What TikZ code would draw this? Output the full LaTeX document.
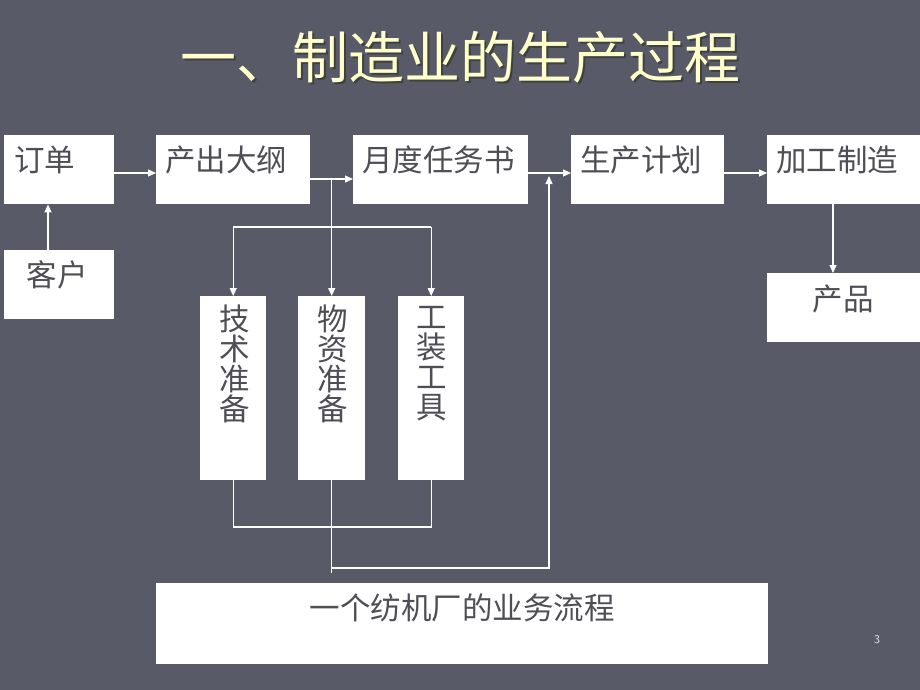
\documentclass[tikz,border=0pt]{standalone}
\usepackage{fontspec}
\newfontfamily\cjk{Noto Sans CJK SC}
\usetikzlibrary{arrows.meta}
\definecolor{bg}{RGB}{89,90,104}
\definecolor{titlec}{RGB}{255,255,204}
\definecolor{txt}{RGB}{78,78,84}
\tikzset{
  box/.style={fill=white, draw=none, anchor=north west, inner sep=0pt},
  lbl/.style={text=txt, inner sep=0pt, font=\cjk\fontsize{30.5}{30}\selectfont},
  vlbl/.style={lbl, align=center},
  conn/.style={draw=white, line width=1.2pt},
  arr/.style={conn, -{Triangle[length=8pt,width=7pt]}},
}
\begin{document}
\begin{tikzpicture}[x=1pt,y=-1pt]
\useasboundingbox (0,0) rectangle (920,690);
\fill[bg] (0,0) rectangle (920,690);
% title
\node[text=black!75, font=\cjk\fontsize{56}{58}\selectfont, inner sep=0pt] (titleshadow) at (462,59) {一、制造业的生产过程};
\node[text=titlec, font=\cjk\fontsize{56}{58}\selectfont, inner sep=0pt] (title) at (460,57) {一、制造业的生产过程};
% boxes
\node[box, minimum width=110pt, minimum height=69pt] (dingdan) at (4,135) {};
\node[box, minimum width=154pt, minimum height=69pt] (chuchu) at (156,135) {};
\node[box, minimum width=175pt, minimum height=69pt] (yuedu) at (353,135) {};
\node[box, minimum width=153pt, minimum height=69pt] (shengchan) at (571,135) {};
\node[box, minimum width=153pt, minimum height=69pt] (jiagong) at (767,135) {};
\node[box, minimum width=153pt, minimum height=69pt] (chanpin) at (767,273) {};
\node[box, minimum width=110pt, minimum height=69pt] (kehu) at (4,250) {};
\node[box, minimum width=66pt, minimum height=184pt] (jishu) at (200,296) {};
\node[box, minimum width=67pt, minimum height=184pt] (wuzi) at (298,296) {};
\node[box, minimum width=66pt, minimum height=184pt] (gongzhuang) at (398,296) {};
\node[box, minimum width=612pt, minimum height=81pt] (bottom) at (156,583) {};
% labels
\node[lbl, anchor=west] (tdingdan) at (14,160) {订单};
\node[lbl, anchor=west] (tchuchu) at (165,160) {产出大纲};
\node[lbl, anchor=west] (tyuedu) at (362,160) {月度任务书};
\node[lbl, anchor=west] (tshengchan) at (580,160) {生产计划};
\node[lbl, anchor=west] (tjiagong) at (776,160) {加工制造};
\node[lbl] (tchanpin) at (843,299) {产品};
\node[lbl] (tkehu) at (57,275) {客户};
\node[vlbl] (tjishu) at (235,364) {技\\术\\准\\备};
\node[vlbl] (twuzi) at (333,364) {物\\资\\准\\备};
\node[vlbl] (tgongzhuang) at (432,364) {工\\装\\工\\具};
\node[lbl] (tbottom) at (462,608) {一个纺机厂的业务流程};
\node[text=white!85!bg, font=\sffamily\fontsize{12}{14}\selectfont, inner sep=0pt] (pagenum) at (877,640) {3};
% helper coordinates
\coordinate (j1) at ([yshift=-44pt]chuchu.north east);
\coordinate (hbar) at (0,227);
\coordinate (lbar) at (0,527);
\coordinate (rbar) at (0,568);
\coordinate (tail) at (0,573);
\coordinate (upx) at (549,0);
\coordinate (uptop) at (0,176);
% connectors
\draw[arr] ([yshift=-38pt]dingdan.north east) -- ([yshift=-38pt]chuchu.north west);
\draw[arr] ([xshift=44pt]kehu.north west) -- ([xshift=44pt]dingdan.south west);
\draw[arr] ([yshift=-44pt]chuchu.north east) -- ([yshift=-44pt]yuedu.north west);
\draw[arr] ([yshift=-38pt]yuedu.north east) -- ([yshift=-38pt]shengchan.north west);
\draw[arr] ([yshift=-38pt]shengchan.north east) -- ([yshift=-38pt]jiagong.north west);
\draw[arr] ([xshift=66pt]jiagong.south west) -- ([xshift=66pt]chanpin.north west);
\draw[arr] (wuzi.north |- j1) -- (wuzi.north);
\draw[conn] (jishu.north |- hbar) -- (gongzhuang.north |- hbar);
\draw[arr] (jishu.north |- hbar) -- (jishu.north);
\draw[arr] (gongzhuang.north |- hbar) -- (gongzhuang.north);
\draw[conn] (jishu.south) -- (jishu.south |- lbar) -- (gongzhuang.south |- lbar) -- (gongzhuang.south);
\draw[conn] (wuzi.south) -- (wuzi.south |- tail);
\draw[arr] (wuzi.south |- rbar) -- (upx |- rbar) -- (upx |- uptop);
\end{tikzpicture}
\end{document}
